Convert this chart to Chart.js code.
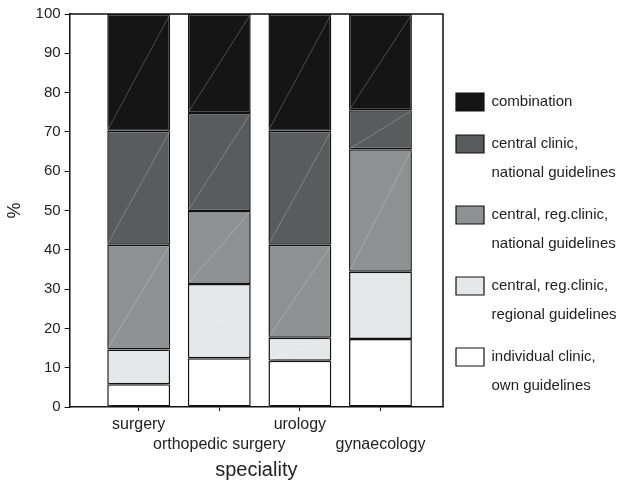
<!DOCTYPE html>
<html>
<head>
<meta charset="utf-8">
<script src="https://cdn.jsdelivr.net/npm/chart.js@4/dist/chart.umd.min.js"></script>
<style>
  html, body { margin: 0; padding: 0; background: #fff; }
  #wrap { width: 620px; height: 480px; }
</style>
</head>
<body>
<div id="wrap"><canvas id="chart" width="620" height="480"></canvas></div>
<script>
// specialities, left to right
const categories = ['surgery', 'orthopedic surgery', 'urology', 'gynaecology'];

// stacked shares (%) per speciality, bottom segment first
const individualOwn = [5.8, 12.4, 11.8, 17.3];
const regionalRegional = [8.8, 18.9, 5.8, 17.1];
const regionalNational = [26.7, 18.6, 23.7, 31.2];
const centralNational = [29.0, 24.9, 29.0, 9.9];
const combination = [29.7, 25.2, 29.7, 24.5];

const seriesLabels = [
  ['individual clinic,', 'own guidelines'],
  ['central, reg.clinic,', 'regional guidelines'],
  ['central, reg.clinic,', 'national guidelines'],
  ['central clinic,', 'national guidelines'],
  ['combination'],
];
const seriesColors = ['#ffffff', '#e6e7e9', '#8f9092', '#5a5b5d', '#151515'];

const yTicks = [0, 10, 20, 30, 40, 50, 60, 70, 80, 90, 100];

const FONT = '"Liberation Sans", Arial, Helvetica, sans-serif';
const INK = '#222';

const series = [individualOwn, regionalRegional, regionalNational, centralNational, combination];

// faint diagonal across each segment, like the original print
const diagonals = {
  id: 'diagonals',
  afterDatasetsDraw(chart) {
    const { ctx } = chart;
    ctx.save();
    ctx.strokeStyle = 'rgba(255,255,255,0.3)';
    ctx.lineWidth = 0.8;
    chart.data.datasets.forEach((ds, di) => {
      chart.getDatasetMeta(di).data.forEach((bar) => {
        const half = bar.width / 2;
        ctx.beginPath();
        ctx.moveTo(bar.x - half, bar.base);
        ctx.lineTo(bar.x + half, bar.y);
        ctx.stroke();
      });
    });
    ctx.restore();
  },
};

// closes the plot box on top and right
const frame = {
  id: 'frame',
  afterDraw(chart) {
    const { ctx, chartArea: a } = chart;
    ctx.save();
    ctx.strokeStyle = '#111';
    ctx.lineWidth = 1.5;
    ctx.beginPath();
    ctx.moveTo(a.left, a.top);
    ctx.lineTo(a.right, a.top);
    ctx.lineTo(a.right, a.bottom);
    ctx.stroke();
    ctx.restore();
  },
};

const chart = new Chart(document.getElementById('chart'), {
  type: 'bar',
  data: {
    datasets: series.map((values, si) => ({
      label: seriesLabels[si],
      data: values.map((v, i) => ({ x: i + 1, y: v })),
      backgroundColor: seriesColors[si],
      borderColor: '#111',
      borderWidth: 1.5,
      borderSkipped: false,
      categoryPercentage: 1,
      barPercentage: 0.78,
    })),
  },
  options: {
    responsive: false,
    animation: false,
    layout: { padding: { top: 14, right: 0, left: 0, bottom: 0 } },
    plugins: {
      tooltip: { enabled: false },
      legend: {
        position: 'right',
        reverse: true,
        // fixed width so the plot ends where the original does
        maxWidth: 177,
        title: { display: true, text: '', padding: 0, font: { size: 5, lineHeight: 1 } },
        labels: {
          boxWidth: 28,
          boxHeight: 18,
          padding: 13,
          color: INK,
          font: { family: FONT, size: 15, lineHeight: '29px' },
          generateLabels: (c) => c.data.datasets.map((ds, i) => ({
            text: ds.label,
            fillStyle: ds.backgroundColor,
            strokeStyle: '#111',
            fontColor: INK,
            lineWidth: 1.2,
            datasetIndex: i,
            hidden: false,
          })),
        },
      },
    },
    scales: {
      x: {
        type: 'linear',
        stacked: true,
        offset: false,
        min: 0.143,
        max: 4.776,
        afterBuildTicks: (axis) => {
          axis.ticks = categories.map((c, i) => ({ value: i + 1 }));
        },
        grid: { display: true, offset: false, drawOnChartArea: false, tickLength: 4, color: '#111', lineWidth: 1 },
        border: { display: true, color: '#111', width: 1.5 },
        ticks: {
          autoSkip: false,
          maxRotation: 0,
          padding: 4,
          color: INK,
          font: { family: FONT, size: 16, lineHeight: '19.5px' },
          callback: (value) => {
            const idx = Math.round(value) - 1;
            return idx % 2 ? ['', categories[idx]] : categories[idx];
          },
        },
        title: {
          display: true, text: 'speciality', color: INK,
          font: { family: FONT, size: 20, lineHeight: 1 },
          padding: { top: 2, bottom: 0 },
        },
      },
      y: {
        stacked: true,
        min: 0,
        max: 100,
        afterBuildTicks: (axis) => {
          axis.ticks = yTicks.map((v) => ({ value: v }));
        },
        grid: { display: true, drawOnChartArea: false, tickLength: 5, color: '#111', lineWidth: 1 },
        border: { display: true, color: '#111', width: 1.5 },
        ticks: { padding: 4, color: INK, font: { family: FONT, size: 15 } },
        title: {
          display: true, text: '%', color: INK,
          font: { family: FONT, size: 18 },
          padding: { top: 4, bottom: 6 },
        },
      },
    },
  },
  plugins: [diagonals, frame],
});
</script>
</body>
</html>
